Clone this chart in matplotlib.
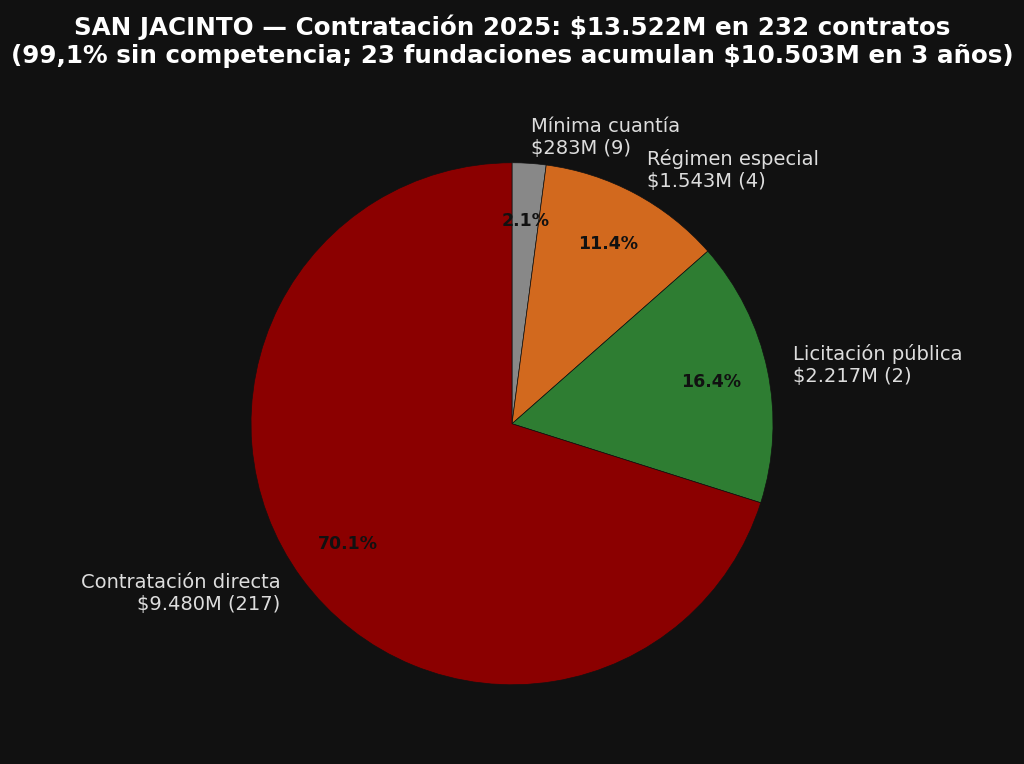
import matplotlib.pyplot as plt

# Contratación 2025 San Jacinto por modalidad
modalidades = ["Mínima cuantía", "Régimen especial", "Licitación pública", "Contratación directa"]
valores = [283, 1543, 2217, 9480]          # millones de pesos
contratos = [9, 4, 2, 217]
colores = ["#888888", "#d2691e", "#2e7d32", "#8b0000"]

BG = "#111111"

def fmt_m(v):
    return f"${v:,.0f}M".replace(",", ".")

etiquetas = [f"{m}\n{fmt_m(v)} ({n})" for m, v, n in zip(modalidades, valores, contratos)]

fig = plt.figure(figsize=(10.24, 7.64), dpi=100, facecolor=BG)
ax = fig.add_axes([(512 - 326.25) / 1024, 14 / 764, 652.5 / 1024, 652.5 / 764])
ax.set_facecolor(BG)

wedges, texts, autotexts = ax.pie(
    valores,
    labels=etiquetas,
    colors=colores,
    startangle=90,
    counterclock=False,
    autopct="%1.1f%%",
    pctdistance=0.78,
    labeldistance=1.1,
    wedgeprops=dict(edgecolor=BG, linewidth=0.5),
    textprops=dict(color="#dddddd", fontsize=14),
)
for t in autotexts:
    t.set_color("#111111")
    t.set_fontweight("bold")
    t.set_fontsize(12.5)

fig.suptitle(
    "SAN JACINTO — Contratación 2025: $13.522M en 232 contratos\n"
    "(99,1% sin competencia; 23 fundaciones acumulan $10.503M en 3 años)",
    color="white", fontsize=17.7, fontweight="bold", y=0.981,
)

fig.savefig("out.png", dpi=100, facecolor=BG)
